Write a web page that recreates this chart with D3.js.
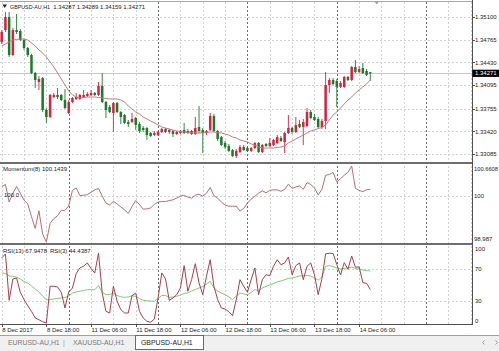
<!DOCTYPE html>
<html>
<head>
<meta charset="utf-8">
<script src="https://cdn.jsdelivr.net/npm/d3@7"></script>
<style>
html, body { margin: 0; padding: 0; background: #fff; }
svg { display: block; font-family: "Liberation Sans", Arial, sans-serif; }
</style>
</head>
<body>
<div id="chart"></div>
<script>
// GBPUSD-AU H1 bars, 8 Dec 06:00 -> 14 Dec 09:00
const open = [1.34730,1.34905,1.35096,1.34539,1.34905,1.34891,1.34759,1.34642,1.34539,1.34276,
1.34144,1.34202,1.33734,1.33631,1.33924,1.33954,1.33954,1.33880,1.33690,1.33851,
1.33895,1.33895,1.33924,1.33939,1.33954,1.33983,1.33954,1.34085,1.33851,1.33778,
1.33690,1.33836,1.33704,1.33661,1.33558,1.33558,1.33617,1.33529,1.33470,1.33470,
1.33397,1.33368,1.33368,1.33412,1.33456,1.33412,1.33426,1.33382,1.33397,1.33441,
1.33397,1.33426,1.33382,1.33485,1.33441,1.33397,1.33441,1.33646,1.33426,1.33338,
1.33251,1.33207,1.33148,1.33060,1.33119,1.33192,1.33177,1.33134,1.33177,1.33251,
1.33119,1.33236,1.33207,1.33221,1.33251,1.33324,1.33265,1.33397,1.33470,1.33412,
1.33529,1.33485,1.33499,1.33704,1.33631,1.33602,1.33485,1.33573,1.34100,1.34173,
1.34159,1.34071,1.34071,1.34217,1.34173,1.34364,1.34290,1.34349,1.34305,1.34287];

const high = [1.34905,1.35169,1.35169,1.34935,1.35140,1.34920,1.34774,1.34656,1.34554,1.34290,
1.34232,1.34217,1.33763,1.33968,1.33983,1.34056,1.33968,1.34041,1.33880,1.33924,
1.33983,1.33968,1.34027,1.33997,1.34027,1.33997,1.34144,1.34276,1.33866,1.33807,
1.33851,1.33851,1.33719,1.33675,1.33587,1.33690,1.33631,1.33558,1.33499,1.33485,
1.33412,1.33426,1.33426,1.33470,1.33470,1.33456,1.33441,1.33426,1.33441,1.33544,
1.33456,1.33441,1.33631,1.33792,1.33470,1.33441,1.33690,1.33675,1.33441,1.33353,
1.33280,1.33236,1.33163,1.33163,1.33221,1.33221,1.33192,1.33192,1.33265,1.33265,
1.33236,1.33251,1.33324,1.33309,1.33368,1.33353,1.33412,1.33661,1.33485,1.33631,
1.33587,1.33602,1.33763,1.33734,1.33675,1.33631,1.33602,1.34290,1.34202,1.34202,
1.34188,1.34159,1.34232,1.34232,1.34378,1.34466,1.34378,1.34422,1.34334,1.34289];

const low = [1.34700,1.34876,1.34510,1.34525,1.34847,1.34744,1.34612,1.34510,1.34261,1.34056,
1.34027,1.33704,1.33544,1.33617,1.33910,1.33895,1.33866,1.33749,1.33675,1.33836,
1.33880,1.33880,1.33910,1.33924,1.33939,1.33939,1.33939,1.33836,1.33617,1.33690,
1.33412,1.33690,1.33529,1.33529,1.33485,1.33544,1.33441,1.33397,1.33412,1.33295,
1.33338,1.33353,1.33353,1.33397,1.33397,1.33382,1.33338,1.33368,1.33382,1.33382,
1.33382,1.33368,1.33368,1.33397,1.33104,1.33368,1.33426,1.33412,1.33280,1.33207,
1.33163,1.33119,1.33046,1.33031,1.33104,1.33134,1.33119,1.33119,1.33163,1.33104,
1.33104,1.33192,1.33192,1.33207,1.33236,1.33265,1.33104,1.33382,1.33382,1.33397,
1.33470,1.33221,1.33485,1.33602,1.33573,1.33470,1.33456,1.33456,1.33983,1.34100,
1.33778,1.34056,1.34056,1.34159,1.34159,1.34276,1.34276,1.34261,1.34232,1.34159];

const close = [1.34876,1.35096,1.34539,1.34905,1.34876,1.34759,1.34642,1.34539,1.34276,1.34173,
1.34188,1.33734,1.33631,1.33954,1.33954,1.33924,1.33880,1.33763,1.33851,1.33910,
1.33924,1.33954,1.33954,1.33968,1.33983,1.33954,1.34085,1.33851,1.33734,1.33704,
1.33836,1.33704,1.33631,1.33544,1.33529,1.33602,1.33514,1.33426,1.33441,1.33368,
1.33353,1.33397,1.33412,1.33456,1.33412,1.33441,1.33382,1.33412,1.33426,1.33397,
1.33426,1.33382,1.33470,1.33426,1.33397,1.33426,1.33646,1.33426,1.33309,1.33221,
1.33192,1.33134,1.33060,1.33134,1.33192,1.33148,1.33134,1.33177,1.33251,1.33119,
1.33221,1.33207,1.33251,1.33295,1.33338,1.33280,1.33397,1.33470,1.33412,1.33514,
1.33485,1.33558,1.33704,1.33617,1.33587,1.33485,1.33573,1.34100,1.34173,1.34115,
1.34071,1.34129,1.34217,1.34173,1.34364,1.34290,1.34334,1.34276,1.34247,1.34271];

// moving average drawn on the price window
const ma = [1.34671,1.34700,1.34730,1.34759,1.34766,1.34774,1.34774,1.34759,1.34715,1.34671,
1.34612,1.34569,1.34510,1.34437,1.34364,1.34276,1.34188,1.34100,1.34012,1.33954,
1.33924,1.33910,1.33917,1.33924,1.33924,1.33924,1.33917,1.33910,1.33902,1.33895,
1.33895,1.33895,1.33880,1.33851,1.33792,1.33749,1.33704,1.33675,1.33631,1.33602,
1.33573,1.33544,1.33514,1.33485,1.33470,1.33456,1.33441,1.33426,1.33419,1.33412,
1.33404,1.33397,1.33397,1.33397,1.33397,1.33404,1.33412,1.33412,1.33404,1.33397,
1.33382,1.33368,1.33338,1.33324,1.33295,1.33280,1.33265,1.33236,1.33221,1.33192,
1.33177,1.33177,1.33177,1.33177,1.33185,1.33192,1.33207,1.33251,1.33280,1.33309,
1.33338,1.33368,1.33397,1.33426,1.33441,1.33463,1.33478,1.33514,1.33587,1.33661,
1.33704,1.33763,1.33822,1.33880,1.33924,1.33983,1.34027,1.34071,1.34115,1.34173];

const momentum = [100.210,100.253,99.867,100.060,100.210,100.060,99.910,99.824,99.545,99.287,
99.674,99.159,98.987,99.395,99.502,99.566,99.684,99.684,99.781,100.124,
100.178,100.011,100.017,100.028,100.081,100.135,100.167,99.996,99.845,99.802,
99.882,99.824,99.760,99.695,99.616,99.770,99.899,99.813,99.710,99.717,
99.738,99.813,99.867,99.878,99.878,99.899,99.916,99.953,99.996,100.017,
99.974,99.953,100.017,100.039,99.996,100.060,100.189,100.006,99.953,99.867,
99.802,99.775,99.775,99.775,99.667,99.727,99.845,99.931,99.996,100.060,
100.114,100.071,100.124,100.135,100.135,100.103,100.146,100.260,100.167,100.199,
100.221,100.146,100.296,100.253,100.178,100.024,100.146,100.457,100.474,100.521,
100.311,100.382,100.457,100.521,100.661,100.167,100.124,100.096,100.139,100.1439];

const rsi3 = [84.3,89.3,30.9,57.8,59.1,41.0,31.7,24.1,17.0,8.6,
6.4,3.9,2.3,48.6,48.6,47.7,41.0,21.2,41.4,46.4,
64.5,71.7,73.8,78.0,70.8,65.4,90.6,40.1,17.0,14.9,
48.6,29.7,19.1,14.9,14.9,36.7,40.1,17.0,8.6,4.4,
3.2,7.3,33.8,65.4,57.8,30.9,33.8,38.0,46.4,74.6,
42.3,56.9,77.1,52.7,38.0,61.2,82.1,48.6,31.7,21.2,
19.9,16.5,11.5,31.7,56.9,48.6,41.0,56.9,71.7,38.0,
56.9,63.2,62.0,73.8,82.1,75.8,78.0,85.5,63.2,74.6,
78.0,56.9,73.8,78.0,63.2,38.0,58.0,89.5,90.2,90.0,
76.0,62.8,78.4,70.0,86.8,72.6,73.0,53.1,52.3,44.4387];

const rsi13 = [65.4,64.7,61.6,61.2,59.9,57.8,54.6,52.7,48.9,45.2,
41.4,36.3,31.3,31.9,32.6,33.2,33.8,34.4,36.3,40.1,
41.4,42.3,43.3,44.3,44.3,44.3,49.3,41.0,38.0,38.2,
40.1,37.0,35.3,34.7,35.1,36.7,35.7,33.2,30.9,30.3,
30.0,29.7,33.2,37.0,37.0,34.7,35.1,36.0,37.6,39.5,
40.1,42.6,44.5,46.4,48.3,51.5,54.9,46.4,42.6,40.1,
38.0,35.1,31.9,36.3,40.1,38.9,38.0,40.7,44.3,42.6,
46.4,48.6,50.2,52.1,54.0,55.3,56.9,58.4,59.1,60.3,
61.6,62.0,62.0,61.6,59.1,56.2,60.3,73.8,74.6,73.6,
71.7,70.4,71.0,71.7,72.9,71.0,70.4,69.1,68.3,67.9478];

const priceTicks = ["1.35100","1.34765","1.34430","1.34095","1.33755","1.33420","1.33085"];
const lastPrice = 1.34271;
const momTicks = [100.6608, 100, 98.987];
const momTickText = ["100.6608", "100", "98.987"];
const rsiTicks = [100, 70, 30, 0];
const timeIdx = [0, 12, 24, 36, 48, 60, 72, 84, 96];
const timeLabels = ["8 Dec 2017","8 Dec 18:00","11 Dec 06:00","11 Dec 18:00","12 Dec 06:00",
  "12 Dec 18:00","13 Dec 06:00","13 Dec 18:00","14 Dec 06:00"];
const daySep = [18, 42, 66, 90, 114];
const tabs = ["EURUSD-AU,H1", "XAUUSD-AU,H1", "GBPUSD-AU,H1"];

const W = 499, H = 351, right = 472;
const svg = d3.select("#chart").append("svg").attr("width", W).attr("height", H);
svg.append("rect").attr("width", W).attr("height", H).attr("fill", "#fff");

const x = d3.scaleLinear().domain([0, 99]).range([1.7, 370.3]);
const yP = d3.scaleLinear().domain([1.33085, 1.35100]).range([154.3, 16.7]);
const yM = d3.scaleLinear().domain([98.987, 100.6608]).range([242, 166]);
const yR = d3.scaleLinear().domain([0, 100]).range([324.8, 245.5]);
const px = v => Math.round(v) + 0.5;

// grid
const grid = svg.append("g").attr("shape-rendering", "crispEdges");
const gridIdx = d3.range(0, 127, 6).filter(i => !daySep.includes(i));
grid.selectAll(".vg").data(gridIdx).join("line")
  .attr("x1", i => px(x(i))).attr("x2", i => px(x(i)))
  .attr("y1", 2).attr("y2", 324)
  .attr("stroke", "#d2d2d2").attr("stroke-dasharray", "2,2");
grid.selectAll(".hg").data(priceTicks).join("line")
  .attr("x1", 0).attr("x2", right)
  .attr("y1", d => px(yP(+d))).attr("y2", d => px(yP(+d)))
  .attr("stroke", "#d2d2d2").attr("stroke-dasharray", "2,2");
grid.append("line").attr("x1", 0).attr("x2", right)
  .attr("y1", px(yM(100))).attr("y2", px(yM(100)))
  .attr("stroke", "#d2d2d2").attr("stroke-dasharray", "2,2");
grid.selectAll(".rg").data([70, 30]).join("line")
  .attr("x1", 0).attr("x2", right)
  .attr("y1", d => px(yR(d))).attr("y2", d => px(yR(d)))
  .attr("stroke", "#d2d2d2").attr("stroke-dasharray", "2,2");
grid.selectAll(".ds").data(daySep).join("line")
  .attr("x1", i => px(x(i))).attr("x2", i => px(x(i)))
  .attr("y1", 2).attr("y2", 324)
  .attr("stroke", "#6a6a6a").attr("stroke-dasharray", "2,2");
// bid line
grid.append("line").attr("x1", 0).attr("x2", right)
  .attr("y1", px(yP(lastPrice))).attr("y2", px(yP(lastPrice)))
  .attr("stroke", "#c8c8c8");

// candles
const bars = d3.range(open.length);
const up = "#d9203e", down = "#1b7b2a";
const cg = svg.append("g");
cg.selectAll(".wick").data(bars).join("line")
  .attr("x1", i => x(i)).attr("x2", i => x(i))
  .attr("y1", i => yP(high[i])).attr("y2", i => yP(low[i]))
  .attr("stroke", i => close[i] >= open[i] ? up : down).attr("stroke-width", 0.9);
cg.selectAll(".body").data(bars).join("rect")
  .attr("x", i => x(i) - 1.25).attr("width", 2.5)
  .attr("y", i => yP(Math.max(open[i], close[i])))
  .attr("height", i => Math.max(0.9, Math.abs(yP(open[i]) - yP(close[i]))))
  .attr("fill", i => close[i] >= open[i] ? up : down);

// moving average
svg.append("path").datum(ma)
  .attr("d", d3.line().x((d, i) => x(i)).y(d => yP(d)))
  .attr("fill", "none").attr("stroke", "#c47c7c").attr("stroke-width", 1);

// momentum
svg.append("path").datum(momentum)
  .attr("d", d3.line().x((d, i) => x(i)).y(d => yM(d)))
  .attr("fill", "none").attr("stroke", "#b86e72").attr("stroke-width", 1);

// RSI
svg.append("path").datum(rsi13)
  .attr("d", d3.line().x((d, i) => x(i)).y(d => yR(d)))
  .attr("fill", "none").attr("stroke", "#7ccc7a").attr("stroke-width", 1);
svg.append("path").datum(rsi3)
  .attr("d", d3.line().x((d, i) => x(i)).y(d => yR(d)))
  .attr("fill", "none").attr("stroke", "#a4404e").attr("stroke-width", 1);

// frames and separators
const fr = svg.append("g").attr("shape-rendering", "crispEdges");
fr.append("line").attr("x1", 0).attr("x2", right).attr("y1", 1.5).attr("y2", 1.5).attr("stroke", "#a8a8a8");
fr.append("rect").attr("x", 0).attr("y", 162).attr("width", right + 1).attr("height", 2).attr("fill", "#6e6e6e");
fr.append("rect").attr("x", 0).attr("y", 242.5).attr("width", right + 1).attr("height", 2).attr("fill", "#6e6e6e");
fr.append("line").attr("x1", 0).attr("x2", right + 1).attr("y1", 324.5).attr("y2", 324.5).attr("stroke", "#505050");
fr.append("line").attr("x1", right + 0.5).attr("x2", right + 0.5).attr("y1", 0).attr("y2", 325).attr("stroke", "#505050");

// right axis labels
const ax = svg.append("g").attr("font-size", 6).attr("fill", "#222");
ax.selectAll(".pl").data(priceTicks).join("text")
  .attr("x", 475).attr("y", d => yP(+d) + 2.1).text(d => d);
fr.selectAll(".pt").data(priceTicks).join("line")
  .attr("x1", right).attr("x2", right + 3)
  .attr("y1", d => px(yP(+d))).attr("y2", d => px(yP(+d))).attr("stroke", "#505050");
ax.append("rect").attr("x", right + 0.5).attr("y", yP(lastPrice) - 3.6)
  .attr("width", W - right).attr("height", 7.2).attr("fill", "#000");
ax.append("text").attr("x", 475).attr("y", yP(lastPrice) + 2.1)
  .attr("fill", "#fff").text(lastPrice.toFixed(5));

ax.selectAll(".ml").data(momTicks).join("text")
  .attr("x", 474).attr("y", d => Math.min(240.5, Math.max(170.5, yM(d) + 2.1)))
  .attr("textLength", (d, i) => i === 0 ? 24 : null)
  .attr("lengthAdjust", "spacingAndGlyphs")
  .text((d, i) => momTickText[i]);
ax.selectAll(".rl").data(rsiTicks).join("text")
  .attr("x", 475).attr("y", d => Math.min(323, Math.max(251.3, yR(d) + 2.1)))
  .text(d => d);

// window titles
const tt = svg.append("g").attr("font-size", 6).attr("fill", "#222");
tt.append("path").attr("d", "M2.5,4.6 L7,4.6 L4.75,8 Z").attr("fill", "#222");
tt.append("text").attr("x", 10).attr("y", 9).attr("textLength", 40)
  .attr("lengthAdjust", "spacingAndGlyphs").text("GBPUSD-AU,H1");
tt.append("text").attr("x", 53.3).attr("y", 9).text("1.34287 1.34289 1.34159 1.34271");
tt.append("text").attr("x", 3).attr("y", 171).text("Momentum(8) 100.1439");
tt.append("text").attr("x", 4).attr("y", yM(100) + 0.8).text("100.0");
tt.append("text").attr("x", 3).attr("y", 252.5).text("RSI(13) 67.9478");
tt.append("text").attr("x", 50).attr("y", 252.5).text("RSI(3) 44.4387");

// chart shift marker
svg.append("path").attr("d", "M374.4,1.5 L379,1.5 L376.7,4.6 Z").attr("fill", "#a0a0a0");

// time axis
const ta = svg.append("g").attr("font-size", 6).attr("fill", "#222");
ta.selectAll("text").data(timeIdx).join("text")
  .attr("x", i => x(i) + 0.5).attr("y", 332).text((d, i) => timeLabels[i]);
fr.selectAll(".tk").data(timeIdx).join("line")
  .attr("x1", i => px(x(i))).attr("x2", i => px(x(i)))
  .attr("y1", 325).attr("y2", 327).attr("stroke", "#505050");

// tab bar
const tb = svg.append("g");
tb.append("rect").attr("x", 0).attr("y", 335.5).attr("width", W).attr("height", 16).attr("fill", "#f0f0f0");
tb.append("line").attr("x1", 0).attr("x2", W).attr("y1", 335.5).attr("y2", 335.5)
  .attr("stroke", "#a0a0a0").attr("shape-rendering", "crispEdges");
tb.append("rect").attr("x", 135.5).attr("y", 335.5).attr("width", 68).attr("height", 14)
  .attr("fill", "#fff").attr("stroke", "#6a6a6a").attr("shape-rendering", "crispEdges");
const tabX = [8, 73, 141];
tb.selectAll(".tab").data(tabs).join("text")
  .attr("x", (d, i) => tabX[i]).attr("y", 345).attr("font-size", 6.9)
  .attr("fill", (d, i) => i === 2 ? "#1a1a1a" : "#7a7a7a").text(d => d);
tb.append("text").attr("x", 63).attr("y", 345).attr("font-size", 6.9).attr("fill", "#9a9a9a").text("|");
tb.append("path").attr("d", "M484.5,340.5 L482.5,342.5 L484.5,344.5").attr("fill", "none").attr("stroke", "#9a9a9a");
tb.append("path").attr("d", "M495.5,340.5 L497.5,342.5 L495.5,344.5").attr("fill", "none").attr("stroke", "#9a9a9a");
</script>
</body>
</html>
